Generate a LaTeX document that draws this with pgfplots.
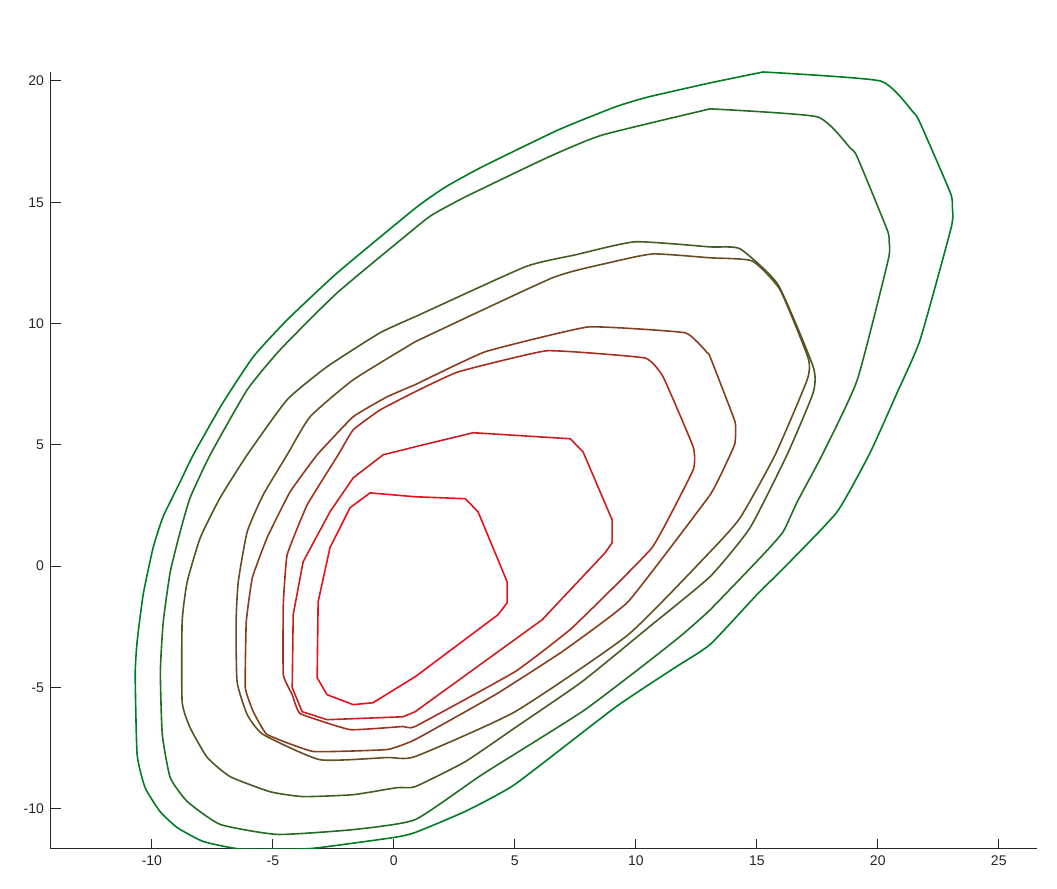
\documentclass[border=0pt]{standalone}
\usepackage{fontspec}
\setmainfont{Liberation Sans}
\usepackage{pgfplots}
\pgfplotsset{compat=1.18}

\definecolor{cg}{RGB}{0,125,35}
\definecolor{cr}{RGB}{235,15,30}
\definecolor{axgray}{RGB}{38,38,38}

\begin{document}
\begin{tikzpicture}
\useasboundingbox (-25.5pt,-20pt) rectangle (503pt,424.5pt);
\begin{axis}[
  at={(0,0)}, anchor=south west,
  scale only axis,
  width=493pt, height=388.5pt,
  xmin=-14.17, xmax=26.58,
  ymin=-11.66, ymax=20.37,
  axis x line=bottom, axis y line=left,
  axis line style={-, axgray, line width=0.5pt},
  xtick={-10,-5,...,25},
  ytick={-10,-5,...,20},
  tick align=inside,
  major tick length=5pt,
  tick style={axgray, line width=0.5pt},
  ticklabel style={font=\fontsize{7}{8.4}\selectfont, text=axgray},
  /pgf/number format/assume math mode=true,
  every axis plot/.append style={line width=0.8pt, line join=round},
]
% outermost level
\addplot[cg, smooth, tension=0.3] coordinates {
(15.26,20.37)(20.10,20.0)(21.46,18.72)(21.75,18.27)(23.0,15.39)(23.08,14.81)(23.04,13.98)
(21.75,9.33)(20.80,7.15)(19.68,4.67)(18.32,2.24)(16.25,0.06)(15.01,-1.17)(13.07,-3.23)
(11.62,-4.18)(9.15,-5.82)(5.01,-8.99)(2.95,-10.11)(0.88,-10.98)(-0.03,-11.19)(-3.04,-11.60)
(-3.87,-11.66)(-6.35,-11.66)(-7.88,-11.35)(-8.95,-10.78)(-9.66,-10.12)(-10.28,-9.13)(-10.61,-7.77)
(-10.69,-4.47)(-10.61,-3.11)(-10.36,-1.17)(-9.95,0.76)(-9.54,2.03)(-8.83,3.48)(-8.29,4.59)
(-7.10,6.68)(-5.81,8.63)(-4.41,10.15)(-2.34,12.09)(0.88,14.75)(2.12,15.62)(3.65,16.46)
(6.79,17.98)(9.15,18.93)(10.51,19.34)(13.07,19.92)(15.26,20.37)
};
\addplot[cr!14!cg, smooth, tension=0.3] coordinates {
(13.07,18.85)(17.5,18.52)(18.86,17.24)(19.15,16.87)(20.39,13.86)(20.47,13.37)(20.43,12.62)
(19.15,7.67)(17.70,4.58)(16.67,2.65)(16.09,1.42)(15.26,0.47)(13.07,-1.80)(11.91,-2.83)
(10.51,-3.94)(7.78,-6.0)(3.65,-8.59)(0.88,-10.45)(-1.68,-10.86)(-4.81,-11.06)(-7.17,-10.65)
(-8.53,-9.71)(-9.24,-8.72)(-9.57,-6.94)(-9.65,-4.35)(-9.53,-2.29)(-9.24,-0.23)(-8.83,1.42)
(-8.42,2.82)(-7.59,4.59)(-6.06,7.27)(-4.70,8.92)(-2.34,11.27)(0.88,13.94)(1.58,14.48)
(2.95,15.22)(6.38,16.86)(8.61,17.77)(13.07,18.85)
};
\addplot[cr!29!cg, smooth, tension=0.3] coordinates {
(0.88,10.28)(5.43,12.34)(7.49,12.83)(9.97,13.37)(13.07,13.16)(14.31,13.08)(15.88,11.60)
(17.33,8.22)(17.33,7.15)(16.25,4.59)(14.72,1.58)(13.07,-0.43)(10.51,-2.54)(7.78,-4.76)
(5.01,-6.66)(2.95,-8.06)(0.88,-9.09)(0.14,-9.13)(-1.68,-9.42)(-3.75,-9.50)(-5.11,-9.30)
(-6.76,-8.68)(-7.71,-7.89)(-8.42,-6.66)(-8.75,-5.59)(-8.75,-2.29)(-8.54,-0.64)(-8.0,1.17)
(-7.18,2.82)(-6.06,4.59)(-4.41,6.86)(-2.76,8.22)(-0.57,9.62)(0.88,10.28)
};
\addplot[cr!43!cg, smooth, tension=0.3] coordinates {
(0.88,9.25)(6.54,11.88)(8.86,12.50)(10.71,12.87)(13.07,12.71)(14.81,12.58)(15.96,11.39)
(17.12,8.58)(17.08,7.68)(15.76,4.59)(14.31,1.99)(13.07,0.59)(9.68,-2.83)(5.01,-6.0)
(0.88,-7.85)(-0.28,-7.89)(-3.05,-7.98)(-5.40,-6.94)(-6.06,-6.12)(-6.48,-4.76)(-6.52,-2.29)
(-6.43,-0.64)(-6.06,1.42)(-5.40,2.94)(-4.41,4.59)(-3.46,6.16)(-1.68,7.68)(0.88,9.25)
};
\addplot[cr!57!cg, smooth, tension=0.2] coordinates {
(0.88,7.48)(3.78,8.84)(8.03,9.86)(12.04,9.62)(12.95,8.80)(13.07,8.63)(14.10,5.95)(14.10,5.08)
(13.90,4.59)(13.07,2.94)(9.68,-1.47)(6.95,-3.53)(4.19,-5.30)(0.88,-7.15)(-0.28,-7.56)
(-3.33,-7.64)(-5.24,-6.94)(-5.81,-6.0)(-6.14,-5.01)(-6.10,-2.29)(-5.85,-0.48)(-5.24,1.17)
(-4.29,3.06)(-3.17,4.59)(-1.68,6.16)(-0.28,6.98)(0.88,7.48)
};
\addplot[cr!71!cg, smooth, tension=0.2] coordinates {
(0.88,7.19)(2.66,8.01)(6.33,8.88)(10.38,8.58)(11.13,7.80)(12.37,4.92)(12.37,3.97)(10.67,0.76)
(7.37,-2.54)(5.01,-4.35)(0.88,-6.61)(0.38,-6.61)(-1.81,-6.74)(-3.87,-6.08)(-4.20,-5.30)
(-4.57,-4.47)(-4.57,-1.59)(-4.41,0.47)(-3.58,2.53)(-2.30,4.59)(-1.68,5.62)(-0.57,6.44)(0.88,7.19)
};
\addplot[cr!86!cg] coordinates {
(0.88,4.92)(3.28,5.50)(7.29,5.25)(7.82,4.71)(9.02,1.91)(9.02,0.96)(8.73,0.55)(6.13,-2.21)
(0.88,-6.0)(0.38,-6.21)(-2.76,-6.33)(-3.79,-6.0)(-4.20,-5.01)(-4.16,-2.0)(-3.75,0.18)
(-2.64,2.24)(-1.68,3.64)(-0.44,4.59)(0.88,4.92)
};
% innermost level
\addplot[cr] coordinates {
(0.88,2.86)(2.95,2.78)(3.48,2.24)(4.68,-0.64)(4.68,-1.51)(4.31,-2.0)(0.88,-4.56)(-0.86,-5.63)
(-1.68,-5.71)(-2.76,-5.30)(-3.17,-4.60)(-3.13,-1.47)(-2.64,0.76)(-1.81,2.41)(-0.98,3.02)(0.88,2.86)
};
\end{axis}
\end{tikzpicture}
\end{document}
